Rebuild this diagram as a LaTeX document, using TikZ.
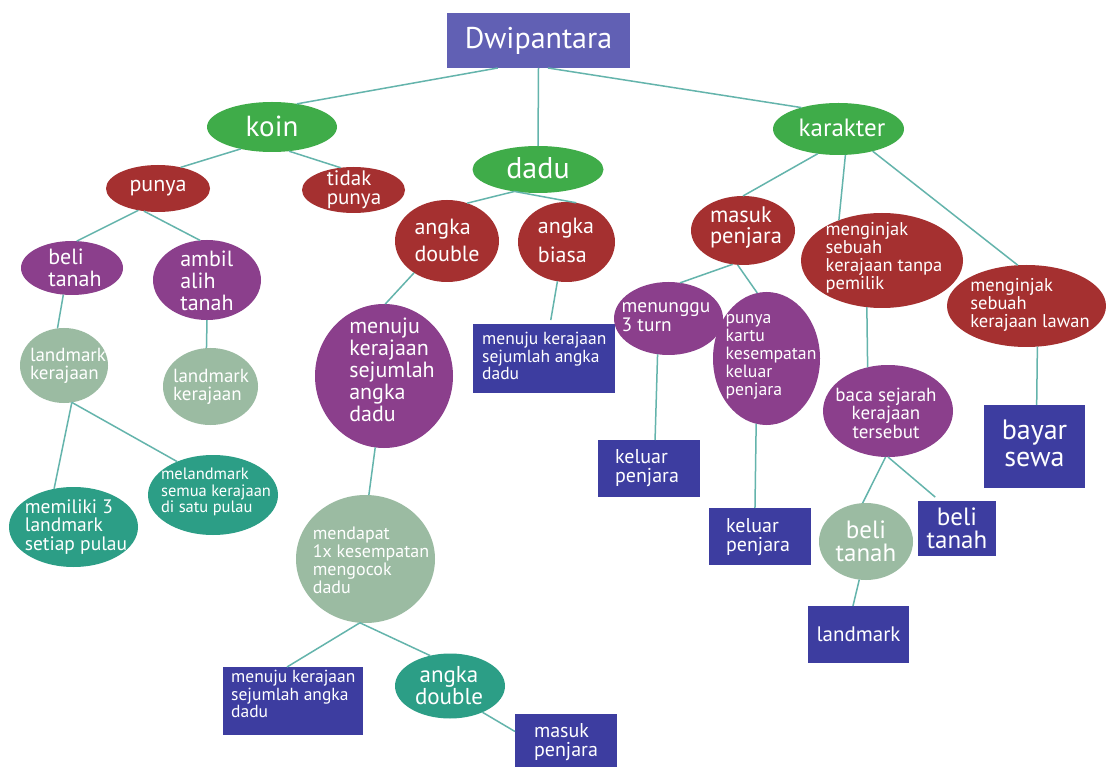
\documentclass[tikz,border=0pt]{standalone}
\usepackage{fontspec}
\setmainfont{PT Sans}
\usetikzlibrary{shapes.geometric}
\definecolor{ctitle}{RGB}{97,96,180}
\definecolor{cgreen}{RGB}{63,172,73}
\definecolor{cred}{RGB}{165,48,48}
\definecolor{cpurple}{RGB}{139,63,140}
\definecolor{cgray}{RGB}{155,187,162}
\definecolor{cteal}{RGB}{44,158,134}
\definecolor{cbox}{RGB}{61,61,160}
\definecolor{cline}{RGB}{100,180,172}
\begin{document}
\begin{tikzpicture}[x=1pt,y=-1pt,
  base/.style={inner sep=0pt,outer sep=0pt,draw=none},
  ell/.style={ellipse,base},
  gE/.style={ell,fill=cgreen},
  rE/.style={ell,fill=cred},
  pE/.style={ell,fill=cpurple},
  grE/.style={ell,fill=cgray},
  tE/.style={ell,fill=cteal},
  bx/.style={rectangle,base,fill=cbox},
  sz/.style 2 args={minimum width=#1pt,minimum height=#2pt},
  tx/.style={text=white,inner sep=0pt,align=left},
  txc/.style={text=white,inner sep=0pt,align=center},
  fs/.style 2 args={font=\fontsize{#1}{#2}\selectfont},
  ln/.style={draw=cline,line width=1.5pt}
]
\useasboundingbox (0,0) rectangle (1106,767);
\fill[white] (0,0) rectangle (1106,767);

% shapes
\node[bx,fill=ctitle,sz={183}{55}] (title) at (538.5,40.5) {};
\node[gE,sz={130}{50}] (koin) at (272,127) {};
\node[gE,sz={131}{47}] (dadu) at (538,169.5) {};
\node[gE,sz={131}{52}] (karakter) at (838.5,129) {};
\node[rE,sz={104}{47}] (punya) at (158,188.5) {};
\node[rE,sz={103}{46}] (tidak) at (353.5,190) {};
\node[pE,sz={102}{54}] (beli1) at (72,268) {};
\node[pE,sz={108}{80}] (ambil) at (207,280) {};
\node[grE,sz={88}{75}] (lk1) at (64,365.5) {};
\node[grE,sz={95}{77}] (lk2) at (210.5,386.5) {};
\node[tE,sz={129}{80}] (memiliki) at (73.5,527) {};
\node[tE,sz={130}{80}] (melandmark) at (213,495) {};
\node[rE,sz={104}{82}] (ad1) at (447,241) {};
\node[rE,sz={97}{80}] (ab) at (566.5,242) {};
\node[pE,sz={138}{144}] (mk) at (384,376) {};
\node[bx,sz={142}{69}] (box1) at (544,358.5) {};
\node[grE,sz={139}{128}] (mendapat) at (365.5,559) {};
\node[bx,sz={140}{68}] (box2) at (293,701) {};
\node[tE,sz={110}{65}] (ad2) at (450,686) {};
\node[bx,sz={102}{53}] (box3) at (566,740.5) {};
\node[rE,sz={104}{69}] (mp) at (743,230.5) {};
\node[rE,sz={162}{95}] (tanpa) at (882,260.5) {};
\node[rE,sz={159}{82}] (lawan) at (1026.5,306) {};
\node[pE,sz={109}{73}] (menunggu) at (668.5,318.5) {};
\node[pE,sz={107}{133}] (kartu) at (766.5,358.5) {};
\node[pE,sz={130}{92}] (baca) at (888,411) {};
\node[bx,sz={102}{57}] (keluar1) at (649,468.5) {};
\node[bx,sz={102}{57}] (keluar2) at (760,536.5) {};
\node[grE,sz={94}{77}] (beli2) at (866,541.5) {};
\node[bx,sz={78}{55}] (belibox) at (957,528.5) {};
\node[bx,sz={101}{57}] (landmark) at (858.5,634.5) {};
\node[bx,sz={101}{83}] (bayar) at (1034.5,446.5) {};

% connectors
\draw[ln] (title.214) -- (koin.43);
\draw[ln] (title.south) -- (dadu.north);
\draw[ln] (title.289) -- (karakter.150);
\draw[ln] (koin.215) -- (punya.43);
\draw[ln] (koin.305) -- (tidak.120);
\draw[ln] (punya.228) -- (beli1.80);
\draw[ln] (punya.238) -- (ambil.100);
\draw[ln] (beli1.252) -- (lk1.100);
\draw[ln] (ambil.270) -- (lk2.96);
\draw[ln] (lk1.282) -- (memiliki.117);
\draw[ln] (lk1.282) -- (melandmark.137);
\draw[ln] (dadu.223) -- (ad1.62);
\draw[ln] (dadu.223) -- (ab.76);
\draw[ln] (ad1.224) -- (mk.89);
\draw[ln,shorten >=4pt] (ab.257) -- (box1.80);
\draw[ln] (mk.263) -- (mendapat.87);
\draw[ln] (mendapat.265) -- (box2.100);
\draw[ln] (mendapat.265) -- (ad2.123);
\draw[ln] (ad2.321) -- (box3.170);
\draw[ln] (karakter.230) -- (mp.90);
\draw[ln] (karakter.285) -- (tanpa.137);
\draw[ln] (karakter.327) -- (lawan.102);
\draw[ln] (mp.253) -- (menunggu.72);
\draw[ln] (mp.261) -- (kartu.98);
\draw[ln] (menunggu.253) -- (keluar1.78);
\draw[ln] (kartu.261) -- (keluar2.100);
\draw[ln] (tanpa.252) -- (baca.115);
\draw[ln] (lawan.285) -- (bayar.87);
\draw[ln] (baca.267) -- (beli2.95);
\draw[ln,shorten >=6pt] (baca.270) -- (belibox.122);
\draw[ln] (beli2.260) -- (landmark.101);

% texts
\node[txc,fs={30}{30}] (t-title) at (538.5,41) {Dwipantara};
\node[txc,fs={29}{29}] (t-koin) at (272,126) {koin};
\node[txc,fs={30}{30}] (t-dadu) at (538,168) {dadu};
\node[txc,fs={25}{25}] (t-karakter) at (842,128) {karakter};
\node[txc,fs={22}{22}] (t-punya) at (158,188) {punya};
\node[tx,fs={21}{19}] (t-tidak) at (354,190) {tidak\\punya};
\node[tx,fs={22}{22}] (t-beli1) at (75,268) {beli\\tanah};
\node[tx,fs={22}{22}] (t-ambil) at (207,281) {ambil\\alih\\tanah};
\node[tx,fs={19}{18.5}] (t-lk1) at (68,366) {landmark\\kerajaan};
\node[tx,fs={19}{18.5}] (t-lk2) at (211,387) {landmark\\kerajaan};
\node[tx,fs={19.5}{18.5}] (t-memiliki) at (76,527) {memiliki 3\\landmark\\setiap pulau};
\node[tx,fs={16.5}{16.5}] (t-melandmark) at (216,492) {melandmark\\semua kerajaan\\di satu pulau};
\node[tx,fs={22}{27}] (t-ad1) at (447,240) {angka\\double};
\node[tx,fs={22}{29}] (t-ab) at (566,240) {angka\\biasa};
\node[tx,fs={22}{22}] (t-mk) at (392,370) {menuju\\kerajaan\\sejumlah\\angka\\dadu};
\node[tx,fs={17.5}{17.5},anchor=north west] (t-box1) at (482,332) {menuju kerajaan\\sejumlah angka\\dadu};
\node[tx,fs={18}{18}] (t-mendapat) at (371,560) {mendapat\\1x kesempatan\\mengocok\\dadu};
\node[tx,fs={17.5}{17.5},anchor=north west] (t-box2) at (231,670) {menuju kerajaan\\sejumlah angka\\dadu};
\node[txc,fs={23}{22}] (t-ad2) at (449,686) {angka\\double};
\node[tx,fs={20}{19.5}] (t-box3) at (566,742) {masuk\\penjara};
\node[tx,fs={22.5}{21}] (t-mp) at (746,228) {masuk\\penjara};
\node[tx,fs={18.5}{18}] (t-tanpa) at (884,258) {menginjak\\sebuah\\kerajaan tanpa\\pemilik};
\node[tx,fs={18.5}{18}] (t-lawan) at (1030,305) {menginjak\\sebuah\\kerajaan lawan};
\node[tx,fs={19.4}{19}] (t-menunggu) at (666,317) {menunggu\\3 turn};
\node[tx,fs={17.7}{18}] (t-kartu) at (771,357) {punya\\kartu\\kesempatan\\keluar\\penjara};
\node[txc,fs={19}{18.5}] (t-baca) at (886,413) {baca sejarah\\kerajaan\\tersebut};
\node[tx,fs={20}{19.5}] (t-keluar1) at (647,468) {keluar\\penjara};
\node[tx,fs={20}{19.5}] (t-keluar2) at (758,537) {keluar\\penjara};
\node[txc,fs={25}{23}] (t-beli2) at (866,541) {beli\\tanah};
\node[txc,fs={25}{23}] (t-belibox) at (957,528.5) {beli\\tanah};
\node[txc,fs={21}{21}] (t-landmark) at (858.5,634.5) {landmark};
\node[txc,fs={28}{27}] (t-bayar) at (1034.5,443) {bayar\\sewa};
\end{tikzpicture}
\end{document}
